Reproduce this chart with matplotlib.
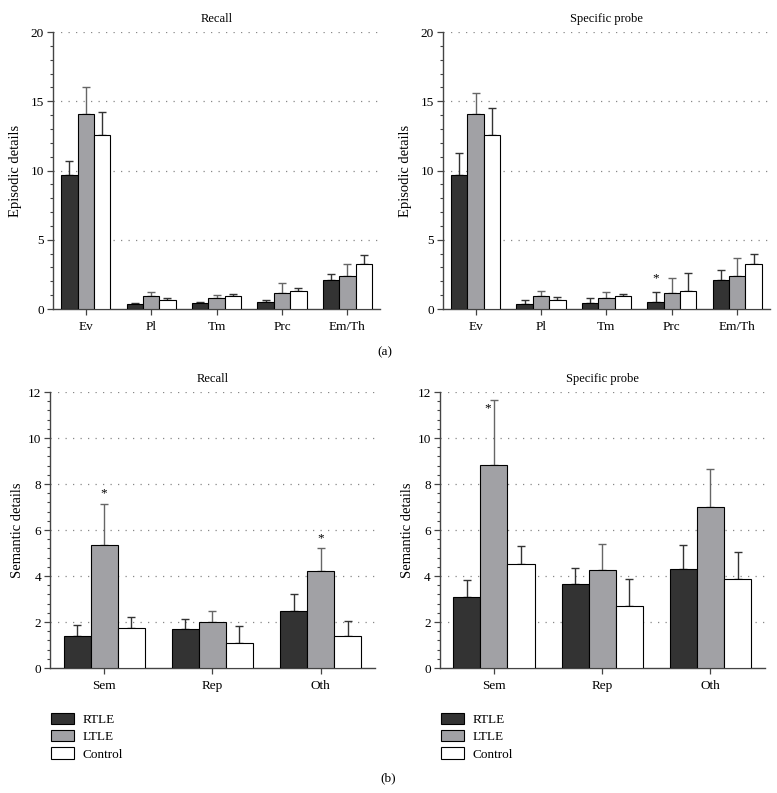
import numpy as np
import matplotlib.pyplot as plt
from matplotlib.ticker import MultipleLocator

plt.rcParams['font.family'] = ['Liberation Serif', 'DejaVu Serif']
plt.rcParams['font.size'] = 9.5

groups = ['RTLE', 'LTLE', 'Control']
colors = ['#333333', '#a1a1a5', '#ffffff']
err_colors = ['#333333', '#666666', '#333333']

ep_cats = ['Ev', 'Pl', 'Tm', 'Prc', 'Em/Th']
sem_cats = ['Sem', 'Rep', 'Oth']

# episodic details, recall
ep_recall = [[9.7, 0.36, 0.4, 0.52, 2.1],
             [14.1, 0.94, 0.8, 1.15, 2.38],
             [12.6, 0.65, 0.93, 1.27, 3.27]]
ep_recall_err = [[1.0, 0.1, 0.1, 0.1, 0.4],
                 [1.9, 0.28, 0.18, 0.75, 0.89],
                 [1.6, 0.14, 0.14, 0.28, 0.63]]

# episodic details, specific probe
ep_probe = [[9.7, 0.35, 0.4, 0.52, 2.1],
            [14.1, 0.95, 0.8, 1.15, 2.38],
            [12.6, 0.65, 0.93, 1.27, 3.27]]
ep_probe_err = [[1.55, 0.3, 0.38, 0.73, 0.75],
                [1.5, 0.35, 0.4, 1.07, 1.29],
                [1.95, 0.25, 0.17, 1.31, 0.7]]

# semantic details, recall
sem_recall = [[1.39, 1.70, 2.5],
              [5.33, 2.02, 4.2],
              [1.75, 1.07, 1.39]]
sem_recall_err = [[0.48, 0.43, 0.7],
                  [1.82, 0.46, 1.0],
                  [0.48, 0.77, 0.65]]

# semantic details, specific probe
sem_probe = [[3.08, 3.65, 4.31],
             [8.83, 4.27, 7.0],
             [4.53, 2.71, 3.88]]
sem_probe_err = [[0.76, 0.71, 1.04],
                 [2.81, 1.14, 1.67],
                 [0.78, 1.14, 1.17]]

# significance marks: (group index, category index, y, x shift)
stars_ep_probe = [(0, 3, 1.75, 0.0)]
stars_sem_recall = [(1, 0, 7.35, 0.0), (1, 2, 5.4, 0.0)]
stars_sem_probe = [(1, 0, 11.05, -0.055)]


def bar_panel(ax, cats, vals, errs, title, ylabel, ymax, major, minor, stars):
    x = np.arange(len(cats))
    w = 0.25
    for i in range(3):
        ax.bar(x + (i - 1) * w, vals[i], w, color=colors[i], edgecolor='black',
               linewidth=0.8, label=groups[i], zorder=3)
        ax.errorbar(x + (i - 1) * w, vals[i], yerr=[np.zeros(len(cats)), errs[i]],
                    fmt='none', ecolor=err_colors[i], elinewidth=1, capsize=3.2,
                    capthick=1, zorder=2)
    for g, c, y, dx in stars:
        ax.text(x[c] + (g - 1) * w + dx, y, '*', ha='center', va='bottom', fontsize=9.5)
    ax.set_xlim(-0.5, len(cats) - 0.5)
    ax.set_ylim(0, ymax)
    ax.set_xticks(x)
    ax.set_xticklabels(cats)
    ax.yaxis.set_major_locator(MultipleLocator(major))
    ax.yaxis.set_minor_locator(MultipleLocator(minor))
    ax.tick_params(axis='both', which='major', length=4.5, width=0.9, color='#444444',
                   pad=2, labelsize=9.5)
    ax.tick_params(axis='x', pad=4)
    ax.tick_params(axis='y', which='minor', length=2.5, width=0.8, color='#444444')
    for s in ['top', 'right']:
        ax.spines[s].set_visible(False)
    for s in ['left', 'bottom']:
        ax.spines[s].set_color('#444444')
        ax.spines[s].set_linewidth(1)
    for yv in np.arange(major, ymax + major / 2, major):
        ax.axhline(yv, color='#888888', linewidth=0.9, linestyle=(0, (1, 5)), zorder=1)
    ax.set_title(title, fontsize=9, pad=7)
    ax.set_ylabel(ylabel, fontsize=10.5)


fig = plt.figure(figsize=(7.77, 7.93), dpi=100)

ax1 = fig.add_axes([0.0682, 0.6103, 0.421, 0.3493])
ax2 = fig.add_axes([0.570, 0.6103, 0.421, 0.3493])
ax3 = fig.add_axes([0.0644, 0.1576, 0.418, 0.348])
ax4 = fig.add_axes([0.566, 0.1576, 0.418, 0.348])

bar_panel(ax1, ep_cats, ep_recall, ep_recall_err, 'Recall', 'Episodic details', 20, 5, 1, [])
bar_panel(ax2, ep_cats, ep_probe, ep_probe_err, 'Specific probe', 'Episodic details', 20, 5, 1, stars_ep_probe)
bar_panel(ax3, sem_cats, sem_recall, sem_recall_err, 'Recall', 'Semantic details', 12, 2, 0.4, stars_sem_recall)
bar_panel(ax4, sem_cats, sem_probe, sem_probe_err, 'Specific probe', 'Semantic details', 12, 2, 0.4, stars_sem_probe)

ax1.yaxis.set_label_coords(-0.095, 0.5)
ax2.yaxis.set_label_coords(-0.095, 0.5)
ax3.yaxis.set_label_coords(-0.08, 0.5)
ax4.yaxis.set_label_coords(-0.08, 0.5)

for ax, xl in [(ax3, 0.0656), (ax4, 0.5676)]:
    ax.legend(loc='upper left', bbox_to_anchor=(xl, 0.101), bbox_transform=fig.transFigure,
              frameon=False, handlelength=1.75, handleheight=0.95, labelspacing=0.3,
              handletextpad=0.65, borderpad=0, borderaxespad=0, fontsize=9.5)

fig.text(0.4955, 1 - 352 / 793, '(a)', ha='center', va='center', fontsize=9.5)
fig.text(0.4994, 1 - 778 / 793, '(b)', ha='center', va='center', fontsize=9.5)

fig.savefig('out.png', dpi=100)
